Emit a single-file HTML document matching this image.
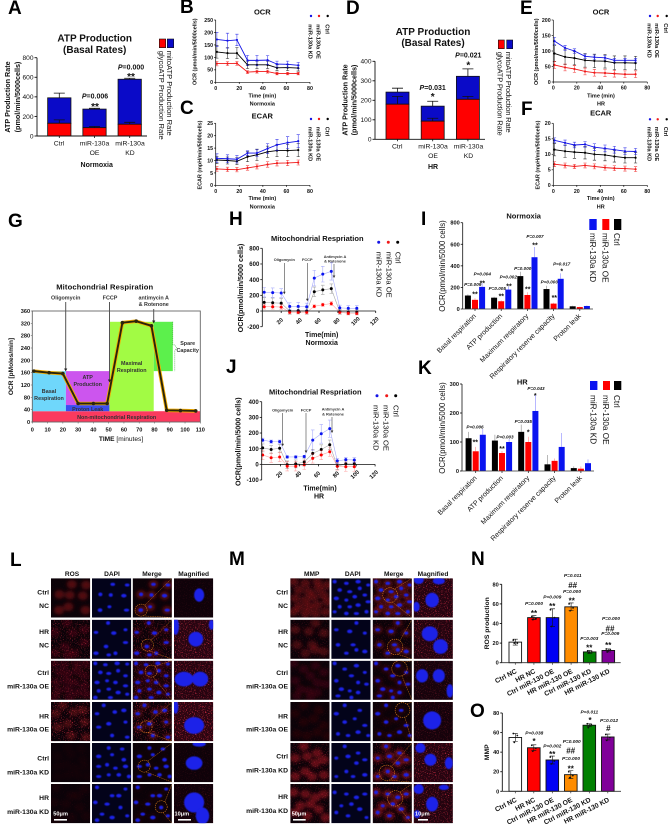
<!DOCTYPE html>
<html lang="en">
<head>
<meta charset="utf-8">
<title>miR-130a mitochondrial function figure</title>
<style>
html,body{margin:0;padding:0;background:#fff;}
#figure{display:block;width:670px;height:830px;font-family:"Liberation Sans",sans-serif;filter:blur(.3px);}
text{fill:#111;font-family:"Liberation Sans",sans-serif;}
.b{font-weight:700;}
.m{text-anchor:middle;}
.e{text-anchor:end;}
.L{font-size:19px;font-weight:700;fill:#000;}
.T{font-size:10px;font-weight:700;text-anchor:middle;}
.y8{font-size:7.2px;font-weight:700;text-anchor:middle;}
.p7{font-size:7px;font-weight:700;text-anchor:middle;}
.s9{font-size:10px;font-weight:700;text-anchor:middle;}
.c7{font-size:6.8px;text-anchor:middle;}
.leg8{font-size:7.6px;}
.t75{font-size:7.5px;font-weight:700;text-anchor:middle;}
.y55{font-size:5.4px;font-weight:700;text-anchor:middle;}
.x55{font-size:5.5px;font-weight:700;text-anchor:middle;}
.leg55{font-size:5.6px;font-weight:700;}
.g{font-size:5.4px;font-weight:700;text-anchor:middle;fill:#333;}
.an{font-size:3.9px;font-weight:700;text-anchor:middle;fill:#333;}
.leg85{font-size:8.2px;}
.p4{font-size:4.6px;font-weight:700;font-style:italic;text-anchor:middle;}
.s6{font-size:7px;font-weight:700;text-anchor:middle;}
.xl{font-size:7px;text-anchor:end;}
.r{font-size:6.8px;font-weight:700;text-anchor:end;}
.h{font-size:6.6px;font-weight:700;text-anchor:middle;}
.sb{font-size:5.6px;font-weight:700;fill:#fff;}
.n7{font-size:7px;font-weight:700;text-anchor:end;}
.p5{font-size:4.8px;font-weight:700;font-style:italic;text-anchor:middle;}
.s8{font-size:8px;font-weight:700;text-anchor:middle;}
</style>
</head>
<body>
<svg id="figure" xmlns="http://www.w3.org/2000/svg" width="670" height="830" viewBox="0 0 670 830">
<defs>
<filter id="soft" x="-30%" y="-30%" width="160%" height="160%"><feGaussianBlur stdDeviation="5"/></filter>
<filter id="nuc" x="-10%" y="-10%" width="120%" height="120%"><feGaussianBlur stdDeviation="1.2"/></filter>
<filter id="speck" x="0" y="0" width="1" height="1"><feTurbulence type="fractalNoise" baseFrequency=".3" numOctaves="2" seed="4"/><feColorMatrix values="0 0 0 0 .85  0 0 0 0 .04  0 0 0 0 .08  6 0 0 0 -3.5"/></filter>
</defs>
<rect width="670" height="830" fill="#fff"/>

<!-- Panel letters -->
<text class="L" x="8" y="14">A</text>
<text class="L" x="180" y="13">B</text>
<text class="L" x="180" y="114">C</text>
<text class="L" x="346" y="14">D</text>
<text class="L" x="520" y="14">E</text>
<text class="L" x="521" y="115">F</text>
<text class="L" x="8" y="227">G</text>
<text class="L" x="229" y="225">H</text>
<text class="L" x="421" y="225">I</text>
<text class="L" x="226" y="373">J</text>
<text class="L" x="418" y="374">K</text>
<text class="L" x="10" y="566">L</text>
<text class="L" x="229" y="565">M</text>
<text class="L" x="471" y="565">N</text>
<text class="L" x="470" y="717">O</text>

<!-- Panel A -->
<g id="panel-a">
<text class="T" x="94.7" y="41.7">ATP Production</text>
<text class="T" x="94.7" y="53">(Basal Rates)</text>
<text class="y8" transform="translate(10,97) rotate(-90)">ATP Production Rate</text>
<text class="y8" transform="translate(20,97) rotate(-90)">(pmol/min/5000cells)</text>
<text class="c7" x="59" y="145.5">Ctrl</text>
<text class="c7" x="94.5" y="145.5">miR-130a</text>
<text class="c7" x="94.5" y="155">OE</text>
<text class="c7" x="130" y="145.5">miR-130a</text>
<text class="c7" x="130" y="155">KD</text>
<text class="p7" x="96.7" y="167">Normoxia</text>
<text class="p7" x="95" y="98.7"><tspan font-style="italic">P</tspan>=0.006</text>
<text class="s9" x="95" y="110">**</text>
<text class="p7" x="131" y="69.5"><tspan font-style="italic">P</tspan>=0.000</text>
<text class="s9" x="131" y="80">**</text>
<rect x="159.3" y="39" width="6.4" height="8.7" fill="#f00" stroke="#111" stroke-width=".6"/>
<rect x="167.3" y="39" width="6.4" height="8.7" fill="#0a0ac8" stroke="#111" stroke-width=".6"/>
<text class="leg8" transform="translate(158.8,50.7) rotate(90)" textLength="89">glycoATP Production Rate</text>
<text class="leg8" transform="translate(167,50.7) rotate(90)" textLength="85">mitoATP Production Rate</text>
</g>

<!-- Panel D -->
<g id="panel-d">
<text class="T" x="433" y="35">ATP Production</text>
<text class="T" x="433" y="46">(Basal Rates)</text>
<text class="y8" transform="translate(347.7,100) rotate(-90)">ATP Production Rate</text>
<text class="y8" transform="translate(356.7,100) rotate(-90)">(pmol/min/5000cells)</text>
<text class="c7" x="397.3" y="148.5">Ctrl</text>
<text class="c7" x="433" y="148.5">miR-130a</text>
<text class="c7" x="433" y="158">OE</text>
<text class="c7" x="468.5" y="148.5">miR-130a</text>
<text class="c7" x="468.5" y="158">KD</text>
<text class="p7" x="433" y="169">HR</text>
<text class="p7" x="432.7" y="90"><tspan font-style="italic">P</tspan>=0.031</text>
<text class="s9" x="432.7" y="100">*</text>
<text class="p7" x="468.3" y="57.5"><tspan font-style="italic">P</tspan>=0.021</text>
<text class="s9" x="468.3" y="68.5">*</text>
<rect x="498.3" y="40" width="6" height="8.7" fill="#f00" stroke="#111" stroke-width=".6"/>
<rect x="506.7" y="40" width="6" height="8.7" fill="#0a0ac8" stroke="#111" stroke-width=".6"/>
<text class="leg8" transform="translate(497.7,51.7) rotate(90)" textLength="84">glycoATP Production Rate</text>
<text class="leg8" transform="translate(506,51.7) rotate(90)" textLength="81">mitoATP Production Rate</text>
</g>

<!-- Panel B -->
<g id="panel-b">
<text class="t75" x="262.3" y="14.5">OCR</text>
<text class="y55" transform="translate(196.5,51.7) rotate(-90)">OCR (pmol/min/5000cells)</text>
<text class="x55" x="262.3" y="97.5">Time (min)</text>
<text class="x55" x="262.3" y="105.7">Normoxia</text>
<text class="leg55" transform="translate(325.7,24.3) rotate(90)">Ctrl</text>
<text class="leg55" transform="translate(316.5,24.3) rotate(90)">miR-130a OE</text>
<text class="leg55" transform="translate(308.3,24.3) rotate(90)">miR-130a KD</text>
</g>
<!-- Panel C -->
<g id="panel-c">
<text class="t75" x="262.3" y="118.5">ECAR</text>
<text class="y55" transform="translate(201.5,155) rotate(-90)">ECAR (mpH/min/5000cells)</text>
<text class="x55" x="262.3" y="200">Time (min)</text>
<text class="x55" x="262.3" y="208.5">Normoxia</text>
<text class="leg55" transform="translate(325.7,126.7) rotate(90)">Ctrl</text>
<text class="leg55" transform="translate(316.5,126.7) rotate(90)">miR-130a OE</text>
<text class="leg55" transform="translate(308.3,126.7) rotate(90)">miR-130a KD</text>
</g>
<!-- Panel E -->
<g id="panel-e">
<text class="t75" x="601" y="14.5">OCR</text>
<text class="y55" transform="translate(538,51.7) rotate(-90)">OCR (pmol/min/5000cells)</text>
<text class="x55" x="601" y="97.5">Time (min)</text>
<text class="x55" x="601" y="105.7">HR</text>
<text class="leg55" transform="translate(664,23.3) rotate(90)">Ctrl</text>
<text class="leg55" transform="translate(655,23.3) rotate(90)">miR-130a OE</text>
<text class="leg55" transform="translate(647.3,23.3) rotate(90)">miR-130a KD</text>
</g>
<!-- Panel F -->
<g id="panel-f">
<text class="t75" x="600.7" y="115.5">ECAR</text>
<text class="y55" transform="translate(539.5,155) rotate(-90)">ECAR (mpH/min/5000cells)</text>
<text class="x55" x="600.7" y="200">Time (min)</text>
<text class="x55" x="600.7" y="208.5">HR</text>
<text class="leg55" transform="translate(664,126.7) rotate(90)">Ctrl</text>
<text class="leg55" transform="translate(655,126.7) rotate(90)">miR-130a OE</text>
<text class="leg55" transform="translate(647.3,126.7) rotate(90)">miR-130a KD</text>
</g>

<!-- Panel G -->
<g id="panel-g"></g>
<g>
<text class="m b" x="104.7" y="289.5" font-size="7.6" textLength="97">Mitochondrial Respiration</text>
<text class="g" x="65.7" y="299.3">Oligomycin</text>
<text class="g" x="110" y="299.3">FCCP</text>
<text class="g" x="153.7" y="299.3">antimycin A</text>
<text class="g" x="153.7" y="306">&amp; Rotenone</text>
<text class="g" x="49" y="393">Basal</text>
<text class="g" x="49" y="400">Respiration</text>
<text class="g" x="87.7" y="379">ATP</text>
<text class="g" x="87.7" y="386">Production</text>
<text class="g" x="87.7" y="411">Proton Leak</text>
<text class="g" x="131.7" y="365">Maximal</text>
<text class="g" x="131.7" y="372">Respiration</text>
<text class="g" x="187.7" y="345">Spare</text>
<text class="g" x="187.7" y="352">Capacity</text>
<text class="g" x="116.7" y="419">Non-mitochondrial Respiration</text>
<text class="m b" transform="translate(13,366.5) rotate(-90)" font-size="6.6" fill="#333">OCR [pMoles/min]</text>
<text class="m" x="121" y="441" font-size="6.6"><tspan font-weight="700">TIME</tspan> [minutes]</text>
</g>

<!-- Panel H -->
<g id="panel-h">
<text class="t75" x="317.3" y="241">Mitochondrial Respriation</text>
<text class="y8" transform="translate(243,288) rotate(-90)">OCR(pmol/min/5000 cells)</text>
<text class="p7" x="321.7" y="337">Time(min)</text>
<text class="p7" x="321.7" y="345">Normoxia</text>
<text class="an" x="284.3" y="261">Oligomycin</text>
<text class="an" x="307.3" y="261">FCCP</text>
<text class="an" x="335" y="258">Antimycin A</text>
<text class="an" x="335" y="262.5">&amp; Rotenone</text>
<text class="leg8" transform="translate(395.7,251.7) rotate(90)">Ctrl</text>
<text class="leg8" transform="translate(386.7,251.7) rotate(90)">miR-130a OE</text>
<text class="leg8" transform="translate(376.7,251.7) rotate(90)">miR-130a KD</text>
</g>
<!-- Panel J -->
<g id="panel-j">
<text class="t75" x="315.3" y="394.5">Mitochondrial Respriation</text>
<text class="y8" transform="translate(240.5,441.7) rotate(-90)">OCR(pmol/min/5000 cells)</text>
<text class="p7" x="320" y="490.7">Time(min)</text>
<text class="p7" x="319" y="498.7">HR</text>
<text class="an" x="282.7" y="411.7">Oligomycin</text>
<text class="an" x="306" y="411.7">FCCP</text>
<text class="an" x="333" y="410.7">Antimycin A</text>
<text class="an" x="333" y="415.3">&amp; Rotenone</text>
<text class="leg8" transform="translate(393.3,405) rotate(90)">Ctrl</text>
<text class="leg8" transform="translate(383.3,405) rotate(90)">miR-130a OE</text>
<text class="leg8" transform="translate(373.3,405) rotate(90)">miR-130a KD</text>
</g>

<!-- Panel I -->
<g id="panel-i">
<text class="t75" x="523.7" y="218.7">Normoxia</text>
<text class="m" transform="translate(445,266) rotate(-90)" font-size="7.8">OCR(pmol/min/5000 cells)</text>
<rect x="589.3" y="219" width="7.4" height="11" fill="#0a14f0"/>
<rect x="602.3" y="219" width="7" height="11" fill="#f00"/>
<rect x="614" y="219" width="7.3" height="11" fill="#000"/>
<text class="leg85" transform="translate(590,233) rotate(90)">miR-130a KD</text>
<text class="leg85" transform="translate(602.3,233) rotate(90)">miR-130a OE</text>
<text class="leg85" transform="translate(614,233) rotate(90)">Ctrl</text>
<text class="p4" x="472.7" y="286">P=0.009</text>
<text class="s6" x="475" y="296.5">**</text>
<text class="p4" x="482.3" y="275.5">P=0.004</text>
<text class="s6" x="482.3" y="285.5">**</text>
<text class="p4" x="497.3" y="290">P=0.005</text>
<text class="s6" x="501.3" y="298.5">**</text>
<text class="p4" x="508.3" y="278.5">P=0.002</text>
<text class="s6" x="509" y="288.5">**</text>
<text class="p4" x="522.7" y="270">P=0.000</text>
<text class="s6" x="527.7" y="291.5">**</text>
<text class="p4" x="535" y="238">P=0.007</text>
<text class="s6" x="535" y="247.5">**</text>
<text class="p4" x="549.3" y="283.5">P=0.000</text>
<text class="s6" x="554.3" y="300">**</text>
<text class="p4" x="561.7" y="265.5">P=0.017</text>
<text class="s6" x="561.7" y="273.5">*</text>
</g>
<!-- Panel K -->
<g id="panel-k">
<text class="t75" x="522.3" y="384.5">HR</text>
<text class="m" transform="translate(445,428) rotate(-90)" font-size="7.8">OCR(pmol/min/5000 cells)</text>
<rect x="590" y="381" width="7.4" height="9" fill="#0a14f0"/>
<rect x="603" y="381" width="7" height="9" fill="#f00"/>
<rect x="614" y="381" width="7.3" height="9" fill="#000"/>
<text class="leg85" transform="translate(590.5,395) rotate(90)">miR-130a KD</text>
<text class="leg85" transform="translate(603,395) rotate(90)">miR-130a OE</text>
<text class="leg85" transform="translate(614,395) rotate(90)">Ctrl</text>
<text class="p4" x="475" y="428.5">P=0.006</text>
<text class="s6" x="475.3" y="444.5">**</text>
<text class="p4" x="505" y="438.5">P=0.003</text>
<text class="s6" x="502" y="451">**</text>
<text class="p4" x="523.3" y="423">P=0.035</text>
<text class="s6" x="528.3" y="434.5">*</text>
<text class="p4" x="536" y="390">P=0.043</text>
<text class="s6" x="535.3" y="398">*</text>
</g>

<!-- Panels L and M images drawn by script -->
<g id="panel-l"></g>
<g id="panel-m"></g>
<g>
<text class="h" x="72" y="576">ROS</text>
<text class="h" x="112" y="576">DAPI</text>
<text class="h" x="152" y="576">Merge</text>
<text class="h" x="193.7" y="576">Magnified</text>
<text class="r" x="49" y="594.5">Ctrl</text>
<text class="r" x="49" y="608">NC</text>
<text class="r" x="49" y="634">HR</text>
<text class="r" x="49" y="647.7">NC</text>
<text class="r" x="49" y="675">Ctrl</text>
<text class="r" x="49" y="688.3">miR-130a OE</text>
<text class="r" x="49" y="718.3">HR</text>
<text class="r" x="49" y="731.7">miR-130a OE</text>
<text class="r" x="49" y="760.3">Ctrl</text>
<text class="r" x="49" y="774.3">miR-130a KD</text>
<text class="r" x="49" y="800">HR</text>
<text class="r" x="49" y="814">miR-130a KD</text>
</g>
<g>
<text class="h" x="311.7" y="576">MMP</text>
<text class="h" x="352.7" y="576">DAPI</text>
<text class="h" x="393.7" y="576">Merge</text>
<text class="h" x="433" y="576">Magnified</text>
<text class="r" x="288" y="594.5">Ctrl</text>
<text class="r" x="288" y="608">NC</text>
<text class="r" x="288" y="634">HR</text>
<text class="r" x="288" y="647.7">NC</text>
<text class="r" x="288" y="675">Ctrl</text>
<text class="r" x="288" y="688.3">miR-130a OE</text>
<text class="r" x="288" y="718.3">HR</text>
<text class="r" x="288" y="731.7">miR-130a OE</text>
<text class="r" x="288" y="758.3">Ctrl</text>
<text class="r" x="288" y="772.3">miR-130a KD</text>
<text class="r" x="288" y="799">HR</text>
<text class="r" x="288" y="813">miR-130a KD</text>
</g>
<g id="scale-bars"></g>

<!-- Panel N -->
<g id="panel-n">
<text class="m b" transform="translate(489,623.3) rotate(-90)" font-size="6.8">ROS production</text>
<text class="p5" x="572.7" y="577">P=0.011</text>
<text class="s8" x="572.7" y="588">##</text>
<text class="p5" x="572" y="593">P=0.000</text>
<text class="s8" x="571.7" y="603.5">**</text>
<text class="p5" x="534" y="605">P=0.000</text>
<text class="s8" x="534" y="616">**</text>
<text class="p5" x="552.3" y="598.5">P=0.009</text>
<text class="s8" x="552.3" y="609">**</text>
<text class="p5" x="589.3" y="640">P=0.003</text>
<text class="s8" x="589.3" y="650.5">**</text>
<text class="p5" x="611" y="620">P=0.000</text>
<text class="s8" x="610" y="631.5">##</text>
<text class="p5" x="610.3" y="635">P=0.009</text>
<text class="s8" x="608.3" y="648">**</text>
</g>
<!-- Panel O -->
<g id="panel-o">
<text class="m b" transform="translate(489,752.3) rotate(-90)" font-size="6.8">MMP</text>
<text class="p5" x="534.3" y="734.5">P=0.038</text>
<text class="s8" x="534" y="744">*</text>
<text class="p5" x="552.3" y="747.5">P=0.002</text>
<text class="s8" x="552.3" y="757">**</text>
<text class="p5" x="571.7" y="743">P=0.000</text>
<text class="s8" x="570.7" y="753.5">##</text>
<text class="p5" x="571" y="760">P=0.000</text>
<text class="s8" x="570.7" y="771.5">**</text>
<text class="p5" x="589.3" y="713.5">P=0.011</text>
<text class="s8" x="590" y="723">*</text>
<text class="p5" x="609" y="722">P=0.012</text>
<text class="s8" x="608.3" y="731">#</text>
</g>
</svg>

<script>
// ---------- chart data ----------
const seahorseTimes = [1, 10, 18, 27, 35, 44, 52, 61, 70];
const bCtrl = [122, 117, 117, 70, 70, 70, 58, 59, 57];
const bCtrlErr = [25, 22, 22, 15, 15, 15, 12, 12, 12];
const bOE = [75, 75, 76, 41, 43, 43, 35, 35, 35];
const bOEErr = [9, 8, 8, 6, 6, 6, 5, 5, 5];
const bKD = [172, 167, 170, 88, 88, 89, 73, 72, 68];
const bKDErr = [28, 30, 23, 20, 20, 18, 12, 13, 12];
const cCtrl = [10.2, 10, 9.7, 11.5, 12.3, 13.5, 14, 14, 14.2];
const cCtrlErr = [1.5, 1.4, 1.4, 2, 2.3, 2.3, 2.5, 2.5, 2.7];
const cOE = [6.6, 6.4, 6.3, 7, 7.6, 8.4, 8.9, 9, 9.2];
const cOEErr = [0.9, 0.9, 0.9, 0.9, 1, 1.1, 1.1, 1.1, 1];
const cKD = [10.9, 10.7, 10.5, 13, 13, 14.8, 16.3, 17.2, 17.8];
const cKDErr = [1.8, 1.6, 1.5, 0.9, 1.4, 2, 2.2, 2.4, 2.6];
const eCtrl = [92, 81, 77, 70, 68, 67, 62, 62, 61];
const eCtrlErr = [25, 25, 22, 22, 22, 22, 22, 22, 22];
const eOE = [55, 47, 42, 34, 30, 29, 27, 25, 25];
const eOEErr = [11, 11, 11, 11, 11, 11, 11, 11, 11];
const eKD = [132, 110, 100, 83, 80, 78, 70, 70, 70];
const eKDErr = [12, 8, 7, 7, 7, 7, 6, 6, 6];
const fCtrl = [11.5, 11, 10.7, 10.5, 10, 9.8, 9.3, 8.9, 8.9];
const fCtrlErr = [2, 2, 2, 2, 1.9, 1.9, 1.8, 1.7, 1.7];
const fOE = [6.8, 6.4, 6.1, 6.4, 6.1, 5.7, 5.5, 5.4, 5.2];
const fOEErr = [0.8, 0.8, 0.7, 0.8, 0.8, 0.8, 0.8, 0.8, 0.8];
const fKD = [14.5, 13.7, 13, 13.2, 12.3, 11.9, 11.5, 11, 10.9];
const fKDErr = [0.8, 0.9, 0.9, 0.9, 1.1, 1.1, 1.1, 1.1, 1];

const atpCategories = ['Ctrl', 'miR-130a OE', 'miR-130a KD'];
const aGlyco = [130, 85, 120];
const aGlycoErr = [35, 12, 20];
const aMito = [260, 190, 460];
const aTotalErr = [48, 8, 10];
const dGlyco = [180, 93, 205];
const dGlycoErr = [40, 15, 15];
const dMito = [62, 77, 118];
const dTotalErr = [20, 25, 38];

const gTimes = [1, 11, 20, 30, 40, 49, 59, 68, 78, 88, 97, 107];
const gOcr = [165, 160, 157, 60, 60, 60, 322, 327, 312, 38, 37, 36];

const hTimes = [2, 11, 20, 29, 38, 47, 55, 64, 73, 82, 91, 100];
const hCtrl = [110, 105, 100, 0, 5, 0, 245, 270, 285, -10, -15, -15];
const hCtrlErr = [60, 60, 60, 40, 40, 40, 60, 60, 60, 30, 30, 30];
const hOE = [55, 55, 50, -15, -15, -15, 60, 80, 95, -15, -30, -30];
const hOEErr = [30, 30, 30, 20, 20, 20, 20, 20, 25, 20, 20, 20];
const hKD = [240, 235, 230, 60, 60, 55, 420, 470, 505, 40, 35, 35];
const hKDErr = [60, 60, 55, 45, 50, 45, 100, 100, 110, 35, 35, 35];
const jTimes = [1, 10, 19, 27, 36, 45, 54, 63, 72, 80, 89, 98];
const jCtrl = [105, 95, 103, -3, 3, 15, 70, 95, 125, -12, 3, 3];
const jCtrlErr = [25, 25, 25, 25, 25, 25, 25, 30, 30, 20, 20, 20];
const jOE = [60, 42, 47, -12, -12, -3, 38, 60, 80, -12, -15, -15];
const jOEErr = [30, 30, 30, 30, 30, 30, 30, 30, 30, 25, 30, 30];
const jKD = [155, 145, 145, 47, 47, 50, 155, 195, 228, 22, 30, 28];
const jKDErr = [12, 10, 10, 8, 8, 8, 65, 60, 55, 15, 15, 15];

const respirationCategories = ['Basal respiration', 'ATP production', 'Maximum respiratory', 'Respiratory reserve capacity', 'Proton leak'];
const iCtrl = [125, 105, 305, 185, 25];
const iCtrlErr = [10, 8, 40, 30, 5];
const iOE = [85, 72, 130, 50, 18];
const iOEErr = [15, 8, 25, 8, 3];
const iKD = [205, 180, 480, 280, 28];
const iKDErr = [35, 30, 95, 50, 5];
const kCtrl = [113, 105, 135, 23, 10];
const kCtrlErr = [22, 20, 25, 32, 6];
const kOE = [68, 62, 100, 35, 8];
const kOEErr = [15, 7, 18, 8, 8];
const kKD = [125, 100, 207, 83, 27];
const kKDErr = [20, 10, 55, 48, 13];

const groupCategories = ['Ctrl NC', 'HR NC', 'Ctrl miR-130 OE', 'HR miR-130 OE', 'Ctrl miR-130 KD', 'HR miR-130 KD'];
const nValues = [21, 46, 46, 57, 11, 12.5];
const nErrors = [3, 2, 9, 4, 1.5, 1.5];
const nPoints = [[23, 20, 20], [47, 45, 44], [54, 46, 37], [60, 56, 53], [12, 11, 10], [14, 13, 11]];
const oValues = [55, 44.5, 32, 17, 67.5, 55.5];
const oErrors = [4, 3, 4, 4, 1.5, 3];
const oPoints = [[59, 57, 50], [47, 44, 41], [35, 31, 28], [20, 16, 14], [69, 68, 65], [58, 55, 52]];

const yTicksB = [0, 50, 100, 150, 200, 250];
const yTicksC = [0, 5, 10, 15, 20, 25];
const yTicksE = [0, 50, 100, 150, 200];
const yTicksF = [0, 5, 10, 15, 20];
const xTicksSeahorse = [0, 20, 40, 60, 80];
const yTicksA = [0, 200, 400, 600, 800];
const yTicksD = [0, 100, 200, 300, 400];
const yTicksG = [0, 40, 80, 120, 160, 200, 240, 280, 320, 360];
const xTicksG = [0, 10, 20, 30, 40, 50, 60, 70, 80, 90, 100, 110];
const yTicksH = [-200, 0, 200, 400, 600, 800];
const yTicksJ = [-100, 0, 100, 200, 300, 400];
const xTicksHJ = [20, 40, 60, 80, 100, 120];
const yTicksI = [0, 200, 400, 600, 800];
const yTicksK = [0, 100, 200, 300];
const yTicksNO = [0, 20, 40, 60, 80];

// ---------- helpers ----------
const NS = 'http://www.w3.org/2000/svg';
const BLUE = '#1414e6', RED = '#f01818', BLACK = '#000';
function el(tag, parent, attrs, name) {
  const e = document.createElementNS(NS, tag);
  for (const k in attrs) e.setAttribute(k, attrs[k]);
  
  
  parent.appendChild(e);
  return e;
}
function txt(parent, attrs, str, name) {
  const e = el('text', parent, attrs, name);
  e.textContent = str;
  return e;
}
function linear(d0, d1, r0, r1) { return v => r0 + (v - d0) / (d1 - d0) * (r1 - r0); }
function byId(id) { return document.getElementById(id); }

function yAxis(g, prefix, x, sy, ticks, o) {
  const lo = sy(ticks[0]), hi = sy(ticks[ticks.length - 1]);
  el('line', g, {x1: x, x2: x, y1: lo, y2: hi, stroke: o.color || '#111', 'stroke-width': o.lw || .8}, prefix + '-y-axis-line');
  ticks.forEach(t => {
    el('line', g, {x1: x - (o.tl || 2), x2: x, y1: sy(t), y2: sy(t), stroke: o.color || '#111', 'stroke-width': o.lw || .8}, prefix + '-y-tick');
    txt(g, {x: x - (o.tl || 2) - 1, y: sy(t) + o.fs * .36, 'font-size': o.fs, 'font-weight': o.weight || 400, 'text-anchor': 'end'}, String(t), prefix + '-y-tick-label');
  });
}
function xAxisNumeric(g, prefix, y, sx, ticks, o) {
  const x0 = o.from !== undefined ? o.from : sx(ticks[0]);
  el('line', g, {x1: x0, x2: sx(ticks[ticks.length - 1]), y1: y, y2: y, stroke: o.color || '#111', 'stroke-width': o.lw || .8}, prefix + '-x-axis-line');
  ticks.forEach(t => {
    el('line', g, {x1: sx(t), x2: sx(t), y1: y, y2: y + (o.tl || 2), stroke: o.color || '#111', 'stroke-width': o.lw || .8}, prefix + '-x-tick');
    if (o.rotate) {
      txt(g, {class: 'm', transform: 'translate(' + sx(t) + ',' + (y + o.labelDy) + ') rotate(' + o.rotate + ')', 'font-size': o.fs, 'font-weight': o.weight || 400}, String(t), prefix + '-x-tick-label');
    } else {
      txt(g, {class: 'm', x: sx(t), y: y + o.labelDy, 'font-size': o.fs, 'font-weight': o.weight || 400}, String(t), prefix + '-x-tick-label');
    }
  });
}
function drawSeries(g, name, xs, ys, errs, sx, sy, color, o) {
  const pts = xs.map((x, i) => sx(x).toFixed(2) + ',' + sy(ys[i]).toFixed(2)).join(' ');
  el('polyline', g, {points: pts, fill: 'none', stroke: color, 'stroke-width': o.lw, 'stroke-opacity': o.lineOpacity}, name + '-line');
  xs.forEach((x, i) => {
    const cx = sx(x), e1 = sy(ys[i] + errs[i]), e2 = sy(ys[i] - errs[i]), cap = o.cap;
    el('path', g, {d: 'M' + cx + ' ' + e1 + 'V' + e2 + 'M' + (cx - cap) + ' ' + e1 + 'h' + (2 * cap) + 'M' + (cx - cap) + ' ' + e2 + 'h' + (2 * cap), fill: 'none', stroke: color, 'stroke-width': o.ew, 'stroke-opacity': o.errOpacity}, name + '-error-bar');
    el('circle', g, {cx: cx, cy: sy(ys[i]), r: o.r, fill: color}, name + '-point');
  });
}
function legendMarkers(g, prefix, y, xs, r) {
  el('circle', g, {cx: xs[0], cy: y, r: r, fill: BLUE}, prefix + '-legend-marker-kd');
  el('circle', g, {cx: xs[1], cy: y, r: r, fill: RED}, prefix + '-legend-marker-oe');
  el('circle', g, {cx: xs[2], cy: y, r: r, fill: BLACK}, prefix + '-legend-marker-ctrl');
}
function seahorsePanel(id, prefix, cfg, series) {
  const g = byId(id);
  const sx = linear(0, 80, cfg.x0, cfg.x1), sy = linear(cfg.yMax, 0, cfg.yTop, cfg.yBase);
  const st = {lw: .9, lineOpacity: 1, errOpacity: .85, ew: .55, cap: 1.6, r: 1.1};
  drawSeries(g, prefix + '-ctrl', seahorseTimes, series[0], series[1], sx, sy, BLACK, st);
  drawSeries(g, prefix + '-oe', seahorseTimes, series[2], series[3], sx, sy, RED, st);
  drawSeries(g, prefix + '-kd', seahorseTimes, series[4], series[5], sx, sy, BLUE, st);
  yAxis(g, prefix, cfg.x0, sy, cfg.yTicks, {fs: 5.3, weight: 700, tl: 1.6, lw: .7});
  xAxisNumeric(g, prefix, cfg.yBase, sx, xTicksSeahorse, {fs: 5.3, weight: 700, tl: 1.6, lw: .7, labelDy: 7.5});
  legendMarkers(g, prefix, cfg.legY, cfg.legX, 1.2);
}
function stackedBars(id, prefix, cfg, glyco, glycoErr, mito, totalErr) {
  const g = byId(id);
  const sy = linear(0, cfg.yMax, cfg.yBase, cfg.yTop);
  const bw = cfg.bw;
  glyco.forEach((v, i) => {
    const cx = cfg.first + i * cfg.step, top = v + mito[i];
    const cap = 5.5;
    let e = sy(top + totalErr[i]);
    el('path', g, {d: 'M' + cx + ' ' + sy(top) + 'V' + e + 'M' + (cx - cap) + ' ' + e + 'h' + (2 * cap), fill: 'none', stroke: '#111', 'stroke-width': .8}, prefix + '-total-error-bar');
    el('rect', g, {x: cx - bw / 2, y: sy(top), width: bw, height: sy(v) - sy(top), fill: '#0a0ac8', stroke: '#111', 'stroke-width': .8}, prefix + '-bar-mito');
    el('rect', g, {x: cx - bw / 2, y: sy(v), width: bw, height: sy(0) - sy(v), fill: '#f00', stroke: '#111', 'stroke-width': .8}, prefix + '-bar-glyco');
    e = sy(v + glycoErr[i]);
    el('path', g, {d: 'M' + cx + ' ' + sy(v) + 'V' + e + 'M' + (cx - cap) + ' ' + e + 'h' + (2 * cap), fill: 'none', stroke: '#111', 'stroke-width': .8}, prefix + '-glyco-error-bar');
    el('line', g, {x1: cx, x2: cx, y1: cfg.yBase, y2: cfg.yBase + 2, stroke: '#111', 'stroke-width': .8}, prefix + '-x-tick');
  });
  yAxis(g, prefix, cfg.x0, sy, cfg.yTicks, {fs: 6.6, tl: 2.5, lw: .9});
  el('line', g, {x1: cfg.x0, x2: cfg.x1, y1: cfg.yBase, y2: cfg.yBase, stroke: '#111', 'stroke-width': .9}, prefix + '-x-axis-line');
}
function respirationPanel(id, prefix, cfg, series) {
  const g = byId(id);
  const sy = linear(0, cfg.yMax, cfg.yBase, cfg.yTop);
  const colors = [BLACK, '#f00', '#0a14f0'];
  const names = ['ctrl', 'oe', 'kd'];
  respirationCategories.forEach((cat, c) => {
    const gx = cfg.first + c * cfg.step;
    series.forEach((s, k) => {
      const cx = gx + (k - 1) * 7.1, v = s[0][c], err = s[1][c];
      const light = k === 0 ? '#888' : (k === 1 ? '#f88' : '#88f');
      el('line', g, {x1: cx, x2: cx, y1: sy(v), y2: sy(v + err), stroke: light, 'stroke-width': .6}, prefix + '-error-' + names[k]);
      el('rect', g, {x: cx - 3, y: sy(v), width: 6, height: cfg.yBase - sy(v), fill: colors[k]}, prefix + '-bar-' + names[k]);
    });
    el('line', g, {x1: gx, x2: gx, y1: cfg.yBase, y2: cfg.yBase + 2, stroke: '#111', 'stroke-width': .7}, prefix + '-x-tick');
    txt(g, {class: 'xl', transform: 'translate(' + (gx + 1.5) + ',' + (cfg.yBase + 7.5) + ') rotate(-45)'}, cat, prefix + '-x-label');
  });
  yAxis(g, prefix, cfg.x0, sy, cfg.yTicks, {fs: 5.6, weight: 700, tl: 2, lw: .8});
  el('line', g, {x1: cfg.x0, x2: cfg.x1, y1: cfg.yBase, y2: cfg.yBase, stroke: '#333', 'stroke-width': .8}, prefix + '-x-axis-line');
}
function groupBars(id, prefix, cfg, values, errors, points) {
  const g = byId(id);
  const sy = linear(0, 80, cfg.yBase, cfg.yTop);
  const fills = ['#fff', '#f00', '#0000f5', '#ff8c00', '#008000', '#800099'];
  groupCategories.forEach((cat, i) => {
    const cx = cfg.first + i * cfg.step, v = values[i];
    el('rect', g, {x: cx - 6.3, y: sy(v), width: 12.6, height: cfg.yBase - sy(v), fill: fills[i], stroke: '#111', 'stroke-width': .9}, prefix + '-bar-' + i);
    const e1 = sy(v + errors[i]), e2 = sy(v - errors[i]);
    el('path', g, {d: 'M' + cx + ' ' + e1 + 'V' + e2 + 'M' + (cx - 2.5) + ' ' + e1 + 'h5M' + (cx - 2.5) + ' ' + e2 + 'h5', fill: 'none', stroke: '#111', 'stroke-width': .6}, prefix + '-error-bar');
    points[i].forEach((p, j) => {
      el('circle', g, {cx: cx + [-2, 2, -1][j], cy: sy(p), r: .9, fill: '#111'}, prefix + '-data-point');
    });
    el('line', g, {x1: cx, x2: cx, y1: cfg.yBase, y2: cfg.yBase + 2, stroke: '#333', 'stroke-width': .7}, prefix + '-x-tick');
    txt(g, {class: 'b e', transform: 'translate(' + (cx + 2) + ',' + (cfg.yBase + 10) + ') rotate(-27)', 'font-size': 6.8}, cat, prefix + '-x-label');
  });
  yAxis(g, prefix, cfg.x0, sy, yTicksNO, {fs: 5.6, weight: 700, tl: 2, lw: .9});
  el('line', g, {x1: cfg.x0, x2: cfg.x1, y1: cfg.yBase, y2: cfg.yBase, stroke: '#333', 'stroke-width': .9}, prefix + '-x-axis-line');
}

// ---------- panels A, D ----------
stackedBars('panel-a', 'a', {x0: 37, x1: 147, yBase: 136, yTop: 57.7, yMax: 800, yTicks: yTicksA, first: 59.3, step: 35.2, bw: 23.3}, aGlyco, aGlycoErr, aMito, aTotalErr);
stackedBars('panel-d', 'd', {x0: 375, x1: 485, yBase: 139.3, yTop: 61.3, yMax: 400, yTicks: yTicksD, first: 397.5, step: 35.2, bw: 23}, dGlyco, dGlycoErr, dMito, dTotalErr);

// ---------- panels B, C, E, F ----------
seahorsePanel('panel-b', 'b', {x0: 215.7, x1: 310, yTop: 20, yBase: 82.3, yMax: 250, yTicks: yTicksB, legY: 16, legX: [311, 319, 327.7]}, [bCtrl, bCtrlErr, bOE, bOEErr, bKD, bKDErr]);
seahorsePanel('panel-c', 'c', {x0: 215.7, x1: 310, yTop: 123.3, yBase: 185.3, yMax: 25, yTicks: yTicksC, legY: 119, legX: [311, 319, 327.7]}, [cCtrl, cCtrlErr, cOE, cOEErr, cKD, cKDErr]);
seahorsePanel('panel-e', 'e', {x0: 553.3, x1: 647.3, yTop: 20, yBase: 82, yMax: 200, yTicks: yTicksE, legY: 16, legX: [650, 657.7, 666.7]}, [eCtrl, eCtrlErr, eOE, eOEErr, eKD, eKDErr]);
seahorsePanel('panel-f', 'f', {x0: 553.3, x1: 647.3, yTop: 123.3, yBase: 185.3, yMax: 20, yTicks: yTicksF, legY: 119.3, legX: [650, 657.7, 666.7]}, [fCtrl, fCtrlErr, fOE, fOEErr, fKD, fKDErr]);

// ---------- panel G ----------
(function () {
  const g = byId('panel-g');
  const sx = linear(0, 110, 32.3, 200.3), sy = linear(0, 360, 422, 311);
  const region = (x0, x1, y0, y1, fill, name) => el('rect', g, {x: sx(x0), y: sy(y1), width: sx(x1) - sx(x0), height: sy(y0) - sy(y1), fill: fill}, name);
  region(0, 110, 0, 35, '#fb3a5e', 'g-region-non-mitochondrial');
  region(0, 22, 35, 165, '#6fd7fb', 'g-region-basal');
  region(22, 50.5, 55, 165, '#cc55ee', 'g-region-atp');
  region(22, 50.5, 35, 55, '#3a4df0', 'g-region-proton-leak');
  region(50.5, 79.5, 35, 325, '#a2fb44', 'g-region-maximal');
  region(79.5, 92, 165, 325, '#5cf04c', 'g-region-spare');
  el('path', g, {d: 'M' + sx(92) + ' ' + sy(325) + 'V' + sy(250) + 'l2 -0 l2 3 l-2 3 V' + sy(165), fill: 'none', stroke: '#2e9c2e', 'stroke-width': .6, 'stroke-dasharray': '1 1'}, 'g-spare-bracket');
  el('rect', g, {x: sx(0), y: sy(360), width: sx(110) - sx(0), height: sy(0) - sy(360), fill: 'none', stroke: '#666', 'stroke-width': .9}, 'g-plot-frame');
  yTicksG.forEach(t => {
    el('line', g, {x1: sx(0) - 1.5, x2: sx(0), y1: sy(t), y2: sy(t), stroke: '#666', 'stroke-width': .6}, 'g-y-tick');
    txt(g, {class: 'e b', x: sx(0) - 2.2, y: sy(t) + 2, 'font-size': 5.6, fill: '#333'}, String(t), 'g-y-tick-label');
  });
  xTicksG.forEach(t => {
    el('line', g, {x1: sx(t), x2: sx(t), y1: sy(0), y2: sy(0) + 1.5, stroke: '#666', 'stroke-width': .6}, 'g-x-tick');
    txt(g, {class: 'm b', x: sx(t), y: 431.5, 'font-size': 5.6, fill: '#333'}, String(t), 'g-x-tick-label');
  });
  const pts = gTimes.map((t, i) => sx(t) + ',' + sy(gOcr[i])).join(' ');
  el('polyline', g, {points: pts, fill: 'none', stroke: '#f5ae00', 'stroke-width': 3.6, 'stroke-linejoin': 'round'}, 'g-ocr-band');
  el('polyline', g, {points: pts, fill: 'none', stroke: '#2a240c', 'stroke-width': 1.9}, 'g-ocr-line');
  gTimes.forEach((t, i) => {
    el('circle', g, {cx: sx(t), cy: sy(gOcr[i]), r: 1.8, fill: '#2a240c'}, 'g-ocr-point');
  });
  [[65.7, 302, 370], [109.5, 302, 381], [153.7, 309, 322]].forEach((a, i) => {
    el('path', g, {d: 'M' + a[0] + ' ' + a[1] + 'V' + a[2], stroke: '#555', 'stroke-width': 1, fill: 'none'}, 'g-injection-arrow-shaft-' + i);
    el('path', g, {d: 'M' + (a[0] - 1.6) + ' ' + (a[2] - 1.5) + 'h3.2l-1.6 3z', fill: '#222'}, 'g-injection-arrow-head-' + i);
  });
})();

// ---------- panels H, J ----------
function respirationLines(id, prefix, cfg, times, series, arrows) {
  const g = byId(id);
  const sx = linear(0, 120, cfg.x0, cfg.x0 + 113.4), sy = linear(cfg.yMax, cfg.yMin, cfg.yTop, cfg.yBot);
  const mk = (e) => ({lw: .6, lineOpacity: .35, errOpacity: .35, ew: .6, cap: 1.8, r: 1.5});
  drawSeries(g, prefix + '-ctrl', times, series[0], series[1], sx, sy, BLACK, mk());
  drawSeries(g, prefix + '-oe', times, series[2], series[3], sx, sy, '#f00', mk());
  drawSeries(g, prefix + '-kd', times, series[4], series[5], sx, sy, '#0a14f0', mk());
  yAxis(g, prefix, cfg.x0, sy, cfg.yTicks, {fs: 6, weight: 700, tl: 2, lw: .8});
  xAxisNumeric(g, prefix, sy(0), sx, cfg.xTicks, {fs: 5.8, weight: 700, tl: 2, lw: .8, labelDy: 11.5, rotate: -45, from: cfg.x0});
  arrows.forEach((a, i) => {
    el('path', g, {d: 'M' + a[0] + ' ' + a[1] + 'V' + a[2], stroke: '#444', 'stroke-width': .6, fill: 'none'}, prefix + '-injection-arrow-shaft-' + i);
    el('path', g, {d: 'M' + (a[0] - 1.3) + ' ' + (a[2] - 1.2) + 'h2.6l-1.3 2.6z', fill: '#333'}, prefix + '-injection-arrow-head-' + i);
  });
  legendMarkers(g, prefix, cfg.legY, cfg.legX, 1.5);
}
respirationLines('panel-h', 'h', {x0: 262.3, yTop: 248.3, yBot: 326.7, yMax: 800, yMin: -200, yTicks: yTicksH, xTicks: xTicksHJ, legY: 242.3, legX: [378.7, 388.3, 397.7]}, hTimes, [hCtrl, hCtrlErr, hOE, hOEErr, hKD, hKDErr], [[284.3, 263, 293], [307.3, 263, 300], [334, 264, 276.7]]);
respirationLines('panel-j', 'j', {x0: 261.7, yTop: 401.7, yBot: 480, yMax: 400, yMin: -100, yTicks: yTicksJ, xTicks: xTicksHJ, legY: 395.7, legX: [377, 386.7, 395.7]}, jTimes, [jCtrl, jCtrlErr, jOE, jOEErr, jKD, jKDErr], [[282.7, 413, 445], [306, 413, 451.7], [332, 417, 431.7]]);

// ---------- panels I, K ----------
respirationPanel('panel-i', 'i', {x0: 462.7, x1: 593, yBase: 309, yTop: 222.7, yMax: 800, yTicks: yTicksI, first: 475, step: 26.2}, [[iCtrl, iCtrlErr], [iOE, iOEErr], [iKD, iKDErr]]);
respirationPanel('panel-k', 'k', {x0: 462, x1: 594, yBase: 471, yTop: 384, yMax: 300, yTicks: yTicksK, first: 475.7, step: 26.3}, [[kCtrl, kCtrlErr], [kOE, kOEErr], [kKD, kKDErr]]);

// ---------- panels N, O ----------
groupBars('panel-n', 'n', {x0: 501.7, x1: 620.7, yBase: 662.7, yTop: 584.3, first: 515.3, step: 18.6}, nValues, nErrors, nPoints);
groupBars('panel-o', 'o', {x0: 502.3, x1: 621, yBase: 791.3, yTop: 713, first: 515.3, step: 18.5}, oValues, oErrors, oPoints);

// ---------- micrographs ----------
const rowTops = [578.3, 619.7, 660.7, 702, 743, 784];
const lColumns = [51, 92, 132.7, 174];
const mColumns = [290.3, 331.3, 372.7, 413.7];
const lNuclei = [
  [[25,48],[62,18],[95,52],[52,85],[24,95],[103,95],[56,50],[105,20]],
  [[48,10],[12,38],[65,40],[100,30],[42,80],[100,68],[70,100],[50,105],[12,100]],
  [[10,8],[40,12],[75,8],[105,10],[25,35],[50,38],[78,30],[100,45],[15,65],[45,60],[70,65],[100,75],[20,90],[50,85],[78,95],[105,100],[10,110],[55,110]],
  [[35,10],[15,35],[50,65],[100,60],[68,30],[20,75],[60,100],[105,105],[95,25]],
  [[50,15],[90,18],[20,40],[60,35],[95,50],[20,70],[45,65],[70,75],[100,70],[50,95],[80,95],[20,100],[110,100]],
  [[15,10],[60,35],[80,35],[100,15],[10,55],[45,60],[85,70],[30,90],[60,100],[105,95],[15,108]]
];
const mNuclei = [
  [[10,10],[45,15],[80,10],[110,20],[25,35],[55,40],[85,30],[100,50],[15,60],[45,65],[70,55],[110,70],[25,85],[55,85],[80,80],[10,100],[45,105],[75,105],[105,100]],
  [[75,10],[15,30],[55,35],[100,40],[20,75],[65,75],[75,90],[45,100],[100,95]],
  [[10,8],[40,25],[75,15],[100,35],[15,60],[60,45],[80,65],[105,70],[30,85],[55,90],[80,95],[20,105],[60,110]],
  [[40,10],[85,25],[15,35],[70,50],[40,60],[100,70],[20,95],[50,100],[80,90],[110,100]],
  [[40,10],[80,30],[50,40],[15,45],[75,60],[100,50],[45,85],[65,100],[100,95],[15,100]],
  [[10,25],[45,30],[75,40],[30,65],[60,60],[100,30],[15,85],[50,95],[85,75],[105,100]]
];
const lMagnified = [
  [[75,50,15,20]],
  [[65,58,22,22],[5,20,10,25],[112,15,8,15]],
  [[30,55,28,22],[78,55,24,22]],
  [[60,70,30,25],[5,15,8,20]],
  [[60,60,25,20],[75,3,20,8]],
  [[60,55,30,30],[85,95,20,25]]
];
const mMagnified = [
  [[55,65,20,22],[15,5,15,12],[75,8,18,10],[8,85,10,15]],
  [[48,42,24,22],[80,80,22,22]],
  [[25,45,18,20],[75,45,18,20],[108,90,10,20]],
  [[55,55,27,27]],
  [[50,50,18,18],[20,15,15,15],[105,60,12,18]],
  [[55,60,18,22],[15,15,15,15],[90,10,15,8],[10,90,10,12]]
];
const lCircles = [[25,95,18],[44,76,18],[55,31,18],[40,74,18],[34,69,18],[85,68,18]];
const mCircles = [[52,50,22],[67,81,23],[80,23,23],[89,24,22],[42,89,23],[67,43,23]];
const lCell = [.4, .22, .2, .32, .04, .06];
const lSpeck = [.05, .5, .45, .6, .04, .06];
const lMagSpeck = [.12, .75, .7, .85, .12, .2];
const mCell = [.38, .32, .18, .12, .5, .5];
const mSpeck = [.25, .22, .1, .08, .35, .3];
const mMagSpeck = [.7, .6, .32, .28, .7, .65];

function imagePanel(parent, x, y, name) {
  const s = el('svg', parent, {x: x, y: y, width: 39.2, height: 39.2, viewBox: '0 0 117 117'}, name);
  el('rect', s, {width: 117, height: 117, fill: '#0b0208'}, name + '-background');
  return s;
}
function redLayer(s, nuclei, cell, speck, name) {
  const g = el('g', s, {filter: 'url(#soft)'}, name + '-cytoplasm');
  nuclei.forEach(n => {
    el('ellipse', g, {cx: n[0], cy: n[1], rx: 15, ry: 13, fill: '#b8141e', 'fill-opacity': cell}, name + '-cell-glow');
  });
  el('rect', s, {width: 117, height: 117, fill: '#f00', filter: 'url(#speck)', opacity: speck}, name + '-speckle');
}
function blueLayer(s, list, big, name) {
  const g = el('g', s, {filter: 'url(#nuc)'}, name + '-nuclei');
  list.forEach((n, i) => {
    const rx = big ? n[2] : 6 + (i % 3);
    const ry = big ? n[3] : 4.6 + ((i + 1) % 2);
    el('ellipse', g, {cx: n[0], cy: n[1], rx: rx, ry: ry, fill: '#1a24e8'}, name + '-nucleus');
  });
}
function buildSet(groupId, prefix, cols, nuclei, mag, circles, cell, speck, magSpeck) {
  const g = byId(groupId);
  rowTops.forEach((top, r) => {
    const a = imagePanel(g, cols[0], top, prefix + '-signal-row-' + (r + 1));
    redLayer(a, nuclei[r], cell[r], speck[r], prefix + '-signal');
    const b = imagePanel(g, cols[1], top, prefix + '-dapi-row-' + (r + 1));
    b.firstChild.setAttribute('fill', '#03031a');
    blueLayer(b, nuclei[r], false, prefix + '-dapi');
    const c = imagePanel(g, cols[2], top, prefix + '-merge-row-' + (r + 1));
    redLayer(c, nuclei[r], cell[r], speck[r], prefix + '-merge');
    blueLayer(c, nuclei[r], false, prefix + '-merge');
    const ci = circles[r];
    el('circle', c, {cx: ci[0], cy: ci[1], r: ci[2], fill: 'none', stroke: '#f08a1e', 'stroke-width': 1.6, 'stroke-dasharray': '4 2.5'}, prefix + '-zoom-circle');
    el('path', c, {d: 'M' + (ci[0] + ci[2] * .6) + ' ' + (ci[1] - ci[2] * .8) + 'L117 0M' + (ci[0] + ci[2] * .3) + ' ' + (ci[1] + ci[2] * .95) + 'L117 117', fill: 'none', stroke: '#f08a1e', 'stroke-width': 1.2, 'stroke-dasharray': '5 2'}, prefix + '-zoom-guide-lines');
    const d = imagePanel(g, cols[3], top, prefix + '-magnified-row-' + (r + 1));
    el('rect', d, {width: 117, height: 117, fill: '#901030', 'fill-opacity': magSpeck[r] * .3}, prefix + '-magnified-haze');
    el('rect', d, {width: 117, height: 117, fill: '#f00', filter: 'url(#speck)', opacity: magSpeck[r]}, prefix + '-magnified-speckle');
    blueLayer(d, mag[r], true, prefix + '-magnified');
  });
}
buildSet('panel-l', 'l', lColumns, lNuclei, lMagnified, lCircles, lCell, lSpeck, lMagSpeck);
buildSet('panel-m', 'm', mColumns, mNuclei, mMagnified, mCircles, mCell, mSpeck, mMagSpeck);

// scale bars on top of images
(function () {
  const g = byId('scale-bars');
  const bars = [[54, 13, 53.3, '50\u03bcm'], [178, 13, 174.5, '10\u03bcm'], [293, 12.7, 291.7, '50\u03bcm'], [418, 10, 415, '10\u03bcm']];
  bars.forEach((b, i) => {
    txt(g, {class: 'sb', x: b[2], y: 815.5}, b[3], 'scale-bar-label-' + i);
    el('rect', g, {x: b[0], y: 819, width: b[1], height: 1.6, fill: '#fff'}, 'scale-bar-' + i);
  });
})();
</script>
</body>
</html>
